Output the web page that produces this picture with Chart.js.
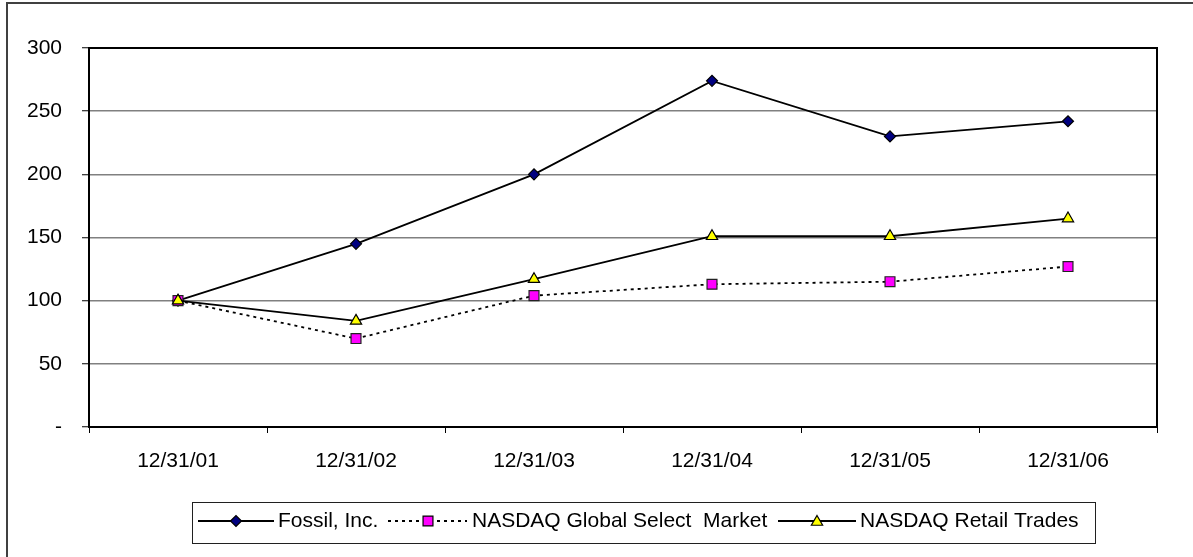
<!DOCTYPE html>
<html>
<head>
<meta charset="utf-8">
<script src="https://cdn.jsdelivr.net/npm/chart.js@4.4.1/dist/chart.umd.min.js"></script>
<style>
  html, body { margin: 0; padding: 0; background: #fff; }
  #wrap { position: relative; width: 1193px; height: 557px; }
</style>
</head>
<body>
<div id="wrap"><canvas id="c" width="1193" height="557"></canvas></div>
<script>
const categories = ['12/31/01', '12/31/02', '12/31/03', '12/31/04', '12/31/05', '12/31/06'];
const fossil = [100, 145, 200, 274, 230, 242];
const nasdaqGlobal = [100, 70, 104, 113, 115, 127];
const nasdaqRetail = [100, 84, 117, 151, 151, 165];
const seriesNames = ['Fossil, Inc.', 'NASDAQ Global Select  Market', 'NASDAQ Retail Trades'];
const yTicks = [0, 50, 100, 150, 200, 250, 300];

const FONT = "'Liberation Sans', Arial, sans-serif";

const framePlugin = {
  id: 'frame',
  beforeDraw(chart) {
    const ctx = chart.ctx;
    ctx.save();
    ctx.fillStyle = '#fff';
    ctx.fillRect(0, 0, chart.width, chart.height);
    ctx.strokeStyle = '#404040';
    ctx.lineWidth = 2;
    ctx.strokeRect(7, 3, 1400, 800);
    ctx.restore();
  },
  beforeDatasetsDraw(chart) {
    const ctx = chart.ctx, a = chart.chartArea;
    ctx.save();
    ctx.strokeStyle = '#000';
    ctx.lineWidth = 2;
    ctx.strokeRect(a.left, a.top, a.right - a.left, a.bottom - a.top);
    ctx.restore();
  },
  afterDraw(chart) {
    const ctx = chart.ctx;
    ctx.save();
    ctx.strokeStyle = '#202020';
    ctx.lineWidth = 1;
    ctx.strokeRect(192.5, 502.5, 903, 41);
    const cy = 521;
    const items = [
      { x0: 198, x1: 274, mx: 236, tx: 278, dash: [], style: 'rectRot', r: 5.5, fill: '#000080', name: seriesNames[0] },
      { x0: 388, x1: 467, mx: 428, tx: 472, dash: [3, 4], style: 'rect', r: 7, fill: '#FF00FF', name: seriesNames[1] },
      { x0: 778, x1: 856, mx: 817, tx: 860, dash: [], style: 'triangle', r: 6.5, fill: '#FFFF00', name: seriesNames[2] }
    ];
    items.forEach(it => {
      ctx.save();
      ctx.strokeStyle = '#000';
      ctx.lineWidth = 1.8;
      ctx.setLineDash(it.dash);
      ctx.beginPath();
      ctx.moveTo(it.x0, cy);
      ctx.lineTo(it.x1, cy);
      ctx.stroke();
      ctx.restore();
      ctx.save();
      ctx.fillStyle = it.fill;
      ctx.strokeStyle = '#000';
      ctx.lineWidth = 1.2;
      Chart.helpers.drawPoint(ctx, { pointStyle: it.style, radius: it.r, rotation: 0, borderWidth: 1.2 }, it.mx, cy + (it.style === 'triangle' ? 1 : 0));
      ctx.restore();
      ctx.fillStyle = '#000';
      ctx.font = '21px ' + FONT;
      ctx.textBaseline = 'middle';
      ctx.textAlign = 'left';
      ctx.fillText(it.name, it.tx, cy);
    });
    ctx.restore();
  }
};

new Chart(document.getElementById('c'), {
  type: 'line',
  data: {
    labels: categories,
    datasets: [
      {
        label: seriesNames[0], data: fossil, order: 2,
        borderColor: '#000', borderWidth: 1.8, tension: 0,
        pointStyle: 'rectRot', pointRadius: 5.5, pointHoverRadius: 5.5,
        pointBackgroundColor: '#000080', pointBorderColor: '#000', pointBorderWidth: 1.2
      },
      {
        label: seriesNames[1], data: nasdaqGlobal, order: 1,
        borderColor: '#000', borderWidth: 1.8, borderDash: [3, 4], tension: 0,
        pointStyle: 'rect', pointRadius: 7, pointHoverRadius: 7,
        pointBackgroundColor: '#FF00FF', pointBorderColor: '#222', pointBorderWidth: 1.2
      },
      {
        label: seriesNames[2], data: nasdaqRetail, order: 0,
        borderColor: '#000', borderWidth: 1.8, tension: 0,
        pointStyle: 'triangle', pointRadius: 6.5, pointHoverRadius: 6.5,
        pointBackgroundColor: '#FFFF00', pointBorderColor: '#000', pointBorderWidth: 1.2
      }
    ]
  },
  options: {
    responsive: false,
    animation: false,
    events: [],
    layout: { padding: { left: 0, right: 36, top: 48, bottom: 0 } },
    plugins: { legend: { display: false }, tooltip: { enabled: false } },
    scales: {
      x: {
        type: 'category',
        offset: true,
        border: { display: false },
        grid: { offset: true, drawOnChartArea: false, drawTicks: true, tickLength: 6, tickColor: '#000', tickWidth: 1 },
        ticks: { color: '#000', font: { family: FONT, size: 21 }, padding: 16, maxRotation: 0, autoSkip: false },
        afterFit(scale) { scale.height = 130; }
      },
      y: {
        min: 0, max: 300,
        border: { display: false },
        afterBuildTicks(scale) { scale.ticks = yTicks.map(v => ({ value: v })); },
        grid: { color: '#808080', lineWidth: 1.5, tickColor: '#000', tickWidth: 1, tickLength: 7 },
        ticks: {
          color: '#000', font: { family: FONT, size: 21 }, padding: 20,
          callback: v => v === 0 ? '-' : String(v)
        },
        afterFit(scale) { scale.width = 89; }
      }
    }
  },
  plugins: [framePlugin]
});
</script>
</body>
</html>
